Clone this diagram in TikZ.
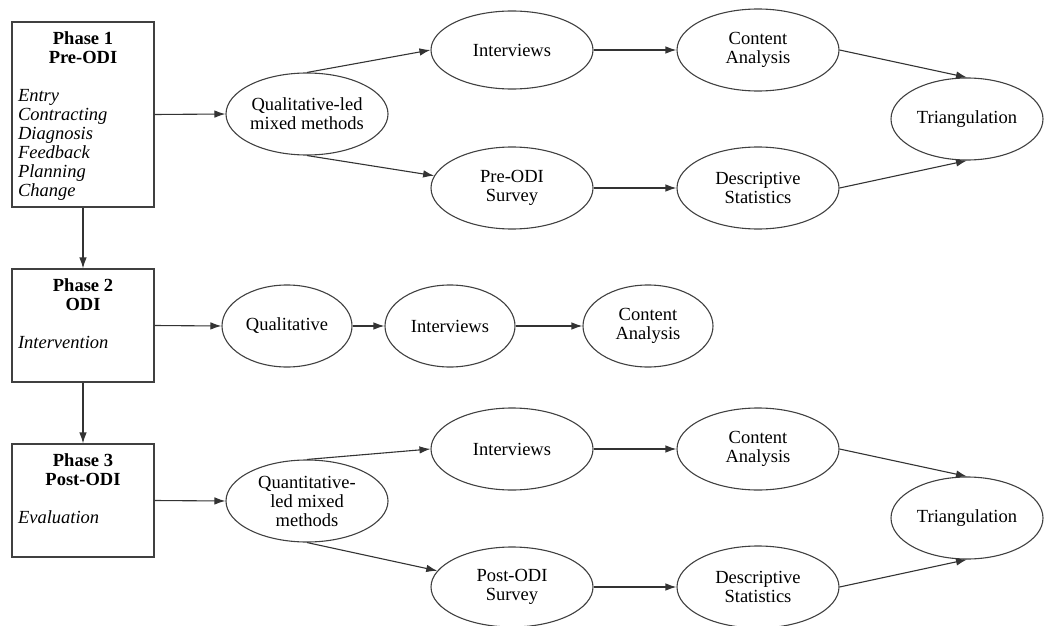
\documentclass[tikz,border=0pt]{standalone}
\usepackage{fontspec}
\setmainfont{Liberation Serif}
\usepackage{tikz}
\usetikzlibrary{arrows.meta}
\usetikzlibrary{shapes.geometric}

\begin{document}
\begin{tikzpicture}[
		x=1pt,y=-1pt,
		>={Latex[length=11pt,width=7.5pt]},
		phase/.style={draw=black!75,line width=1.1pt,rectangle,inner xsep=6pt,inner ysep=10pt,font=\fontsize{18.5}{19}\selectfont},
		method/.style={draw=black!75,line width=1.1pt,ellipse,inner sep=0pt,minimum width=162pt,minimum height=82pt,align=center,font=\fontsize{18.5}{19}\selectfont},
		small/.style={method,minimum width=130pt},
		link/.style={->,line width=1.1pt,draw=black!80}
	]
		\useasboundingbox (0,0) rectangle (1045,626);

		% phases
		\node [phase] (phase1) at (83,114.5) {\parbox[t][165pt][t]{130pt}{%
			{\centering\bfseries Phase 1\\Pre-ODI\par}\vspace{19pt}%
			{\itshape Entry\\Contracting\\Diagnosis\\Feedback\\Planning\\Change\par}}};
		\node [phase] (phase2) at (83,325.5) {\parbox[t][93pt][t]{130pt}{%
			{\centering\bfseries Phase 2\\ODI\par}\vspace{19pt}%
			{\itshape Intervention\par}}};
		\node [phase] (phase3) at (83,500.5) {\parbox[t][93pt][t]{130pt}{%
			{\centering\bfseries Phase 3\\Post-ODI\par}\vspace{19pt}%
			{\itshape Evaluation\par}}};

		% pre-ODI methods
		\node [method] (qual_led) at (307,114) {Qualitative-led\\mixed methods};
		\node [method,minimum height=78pt] (interviews1) at (512,50) {Interviews};
		\node [method] (survey1) at (512,188) {Pre-ODI\\Survey};
		\node [method] (content1) at (758,50) {Content\\Analysis};
		\node [method] (stats1) at (758,188) {Descriptive\\Statistics};
		\node [method,minimum width=152pt] (triang1) at (967,119) {Triangulation};

		% ODI methods
		\node [small] (qual) at (287,326) {Qualitative};
		\node [small] (interviews2) at (450,326) {Interviews};
		\node [small] (content2) at (648,326) {Content\\Analysis};

		% post-ODI methods
		\node [method] (quant_led) at (307,501) {Quantitative-\\led mixed\\methods};
		\node [method] (interviews3) at (512,449) {Interviews};
		\node [method,minimum height=80pt] (survey3) at (512,587) {Post-ODI\\Survey};
		\node [method] (content3) at (758,449) {Content\\Analysis};
		\node [method] (stats3) at (758,587) {Descriptive\\Statistics};
		\node [method,minimum width=152pt] (triang3) at (967,518) {Triangulation};

		\draw [link] (phase1) -- (phase2);
		\draw [link] (phase2) -- (phase3);

		\draw [link] (phase1.east) -- (qual_led.west);
		\draw [link] (qual_led.north) -- (interviews1.west);
		\draw [link] (qual_led.south) -- (survey1);
		\draw [link] (interviews1) -- (content1);
		\draw [link] (survey1) -- (stats1);
		\draw [link] (content1.east) -- (triang1.north);
		\draw [link] (stats1.east) -- (triang1.south);

		\draw [link] (phase2.east) -- (qual.west);
		\draw [link] (qual) -- (interviews2);
		\draw [link] (interviews2) -- (content2);

		\draw [link] (phase3.east) -- (quant_led.west);
		\draw [link] (quant_led.north) -- (interviews3.west);
		\draw [link] (quant_led.south) -- (survey3);
		\draw [link] (interviews3) -- (content3);
		\draw [link] (survey3) -- (stats3);
		\draw [link] (content3.east) -- (triang3.north);
		\draw [link] (stats3.east) -- (triang3.south);
	\end{tikzpicture}
\end{document}
